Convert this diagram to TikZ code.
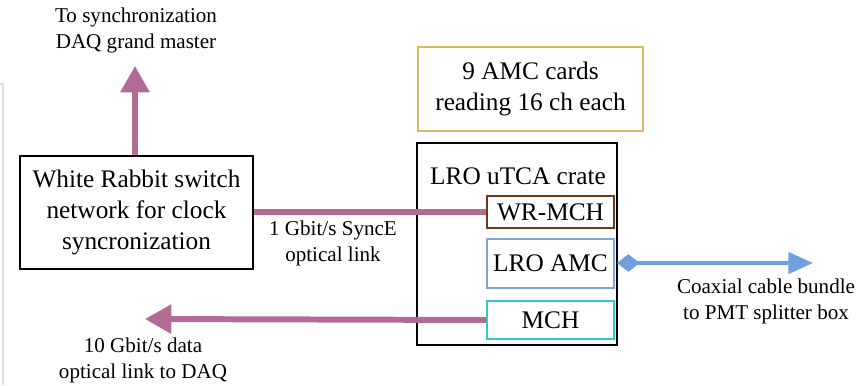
\documentclass[tikz,border=0pt]{standalone}
\usepackage{fontspec}
\setmainfont{Liberation Serif}
\usetikzlibrary{arrows.meta}

\definecolor{linkpink}{RGB}{176,108,150}
\definecolor{coaxblue}{RGB}{112,160,222}
\definecolor{cardgold}{RGB}{218,186,96}
\definecolor{wrbrown}{RGB}{112,56,24}
\definecolor{amcblue}{RGB}{128,164,222}
\definecolor{mchteal}{RGB}{48,200,200}

\tikzset{
  bigtext/.style={font=\fontsize{14.4}{17.5}\selectfont, align=center},
  smalltext/.style={font=\fontsize{12}{14.8}\selectfont, align=center, inner sep=0pt},
  blockbox/.style={draw, line width=1.6pt, bigtext, inner sep=0pt},
  slotbox/.style={draw, line width=1.3pt, bigtext, inner sep=0pt},
  optlink/.style={linkpink, line width=3.4pt},
  coaxlink/.style={coaxblue, line width=2.4pt}
}

\begin{document}
\begin{tikzpicture}[x=0.02cm,y=-0.02cm]
\useasboundingbox (0,0) rectangle (861,385);
% faint frame edge
\draw [black!12, line width=0.8pt] (0,84) -- (3,84) -- (3,385);

% boxes
\node [blockbox, minimum width=233*0.02cm, minimum height=113*0.02cm] (wrswitch) at (136.5,212.5)
  {White Rabbit switch\\network for clock\\syncronization};
\node [draw=cardgold, line width=1.3pt, bigtext, inner sep=0pt, minimum width=225*0.02cm, minimum height=84*0.02cm] (amccards) at (530.5,89)
  {9 AMC cards\\reading 16 ch each};
\draw [line width=1.3pt] (417,143) rectangle (617,345);
\node [bigtext, inner sep=0pt] (cratelabel) at (518,176) {LRO uTCA crate};
\node [slotbox, draw=wrbrown, minimum width=127*0.02cm, minimum height=32*0.02cm] (wrmch) at (550.5,212) {WR-MCH};
\node [slotbox, draw=amcblue, minimum width=127*0.02cm, minimum height=49*0.02cm] (lroamc) at (550.5,263.5) {LRO AMC};
\node [slotbox, draw=mchteal, minimum width=127*0.02cm, minimum height=38*0.02cm] (mch) at (550.5,320) {MCH};

% free ends
\coordinate (gmtip) at (135,66);
\coordinate (daqtip) at (145,319);
\coordinate (pmttip) at (813,263);

% links
\draw [optlink, -{Triangle[width=16pt,length=15pt]}] (wrswitch.north -| gmtip) -- (gmtip);
\draw [optlink] (wrswitch.east |- wrmch) -- (wrmch.west);
\draw [optlink, -{Triangle[width=16pt,length=15pt]}] (mch.west) -- (daqtip);
\draw [coaxlink, {Diamond[width=10pt,length=13pt]}-{Triangle[width=12pt,length=14pt]}] (617,263) -- (pmttip);

% labels
\node [smalltext] (gmlabel) at (136,30) {To synchronization\\DAQ grand master};
\node [smalltext] (synclabel) at (333,243) {1 Gbit/s SyncE\\optical link};
\node [smalltext] (daqlabel) at (143,360) {10 Gbit/s data\\optical link to DAQ};
\node [smalltext] (pmtlabel) at (766,301) {Coaxial cable bundle\\to PMT splitter box};
\end{tikzpicture}
\end{document}
